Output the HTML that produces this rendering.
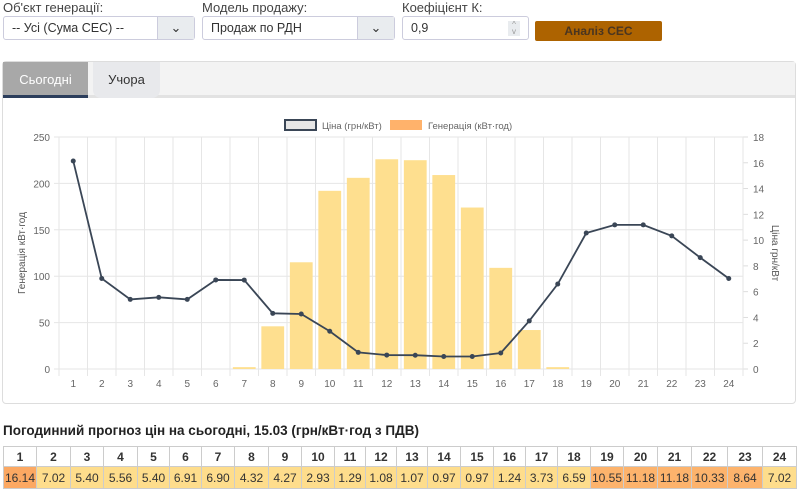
<!DOCTYPE html>
<html><head><meta charset="utf-8"><style>
*{box-sizing:border-box}
body{margin:0;width:803px;height:500px;background:#fff;font-family:"Liberation Sans",sans-serif;position:relative;overflow:hidden;color:#333}
.lbl{position:absolute;top:0;font-size:13px;color:#444}
.sel{position:absolute;top:16px;height:24px;border:1px solid #ccd;border-radius:3px;font-size:12.5px;padding:4px 8px;color:#333;background:#fff}
.sel .arr{position:absolute;right:0;top:0;bottom:0;width:37px;background:#e9ecef;border-left:1px solid #ccd;text-align:center;line-height:22px;font-size:13px}
.card{position:absolute;left:2px;top:61px;width:794px;height:343px;border:1px solid #ddd;border-radius:4px;background:#fff}
.tabs{position:absolute;left:0;top:0;width:100%;height:36px;background:#f3f3f3;border-bottom:3px solid #e2e2e2}
table{position:absolute;left:3px;top:446px;width:793px;border-collapse:collapse;font-size:12px;table-layout:fixed}
td{border:1px solid #ccc;text-align:center;height:22px;padding:0;overflow:hidden;white-space:nowrap}
tr.h td{font-weight:bold;background:#fff;height:20px}
</style></head><body>
<div class="lbl" style="left:3px">Об'єкт генерації:</div>
<div class="sel" style="left:3px;width:192px">-- Усі (Сума СЕС) --<span class="arr">&#8964;</span></div>
<div class="lbl" style="left:202px">Модель продажу:</div>
<div class="sel" style="left:202px;width:193px">Продаж по РДН<span class="arr">&#8964;</span></div>
<div class="lbl" style="left:402px">Коефіцієнт К:</div>
<div class="sel" style="left:402px;width:127px">0,9<span style="position:absolute;right:8px;top:4px;width:12px;height:15px;background:#e9ecef;font-size:8px;line-height:7px;text-align:center;color:#999">^<br>v</span></div>
<div style="position:absolute;left:535px;top:21px;width:127px;height:20px;background:#ad6300;border-radius:2px;color:#4a3520;font-weight:bold;font-size:12px;text-align:center;line-height:20px">Аналіз СЕС</div>
<div class="card">
<div class="tabs">
<div style="position:absolute;left:0;top:0;width:85px;height:36px;background:#a8a8a8;color:#fff;font-size:13px;line-height:36px;text-align:center;border-bottom:3px solid #2c3e5c">Сьогодні</div>
<div style="position:absolute;left:90px;top:0;width:67px;height:36px;background:#e8e9ec;color:#333;font-size:13px;line-height:36px;text-align:center;border-radius:0 0 8px 8px">Учора</div>
</div></div>
<svg id="ch" width="803" height="410" style="position:absolute;left:0;top:0"></svg>
<div style="position:absolute;left:3px;top:423px;font-weight:bold;font-size:13.5px;color:#222">Погодинний прогноз цін на сьогодні, 15.03 (грн/кВт·год з ПДВ)</div>
<table id="tb"><colgroup id="cg"></colgroup><tr class="h" id="hr"></tr><tr id="vr"></tr></table>
<script>
const hours=[1,2,3,4,5,6,7,8,9,10,11,12,13,14,15,16,17,18,19,20,21,22,23,24];
const prices=[16.14,7.02,5.40,5.56,5.40,6.91,6.90,4.32,4.27,2.93,1.29,1.08,1.07,0.97,0.97,1.24,3.73,6.59,10.55,11.18,11.18,10.33,8.64,7.02];
const generation=[0,0,0,0,0,0,2,46,115,192,206,226,225,209,174,109,42,2,0,0,0,0,0,0];
const genTicks=[0,50,100,150,200,250];
const priceTicks=[0,2,4,6,8,10,12,14,16,18];
const NS="http://www.w3.org/2000/svg";
const svg=document.getElementById('ch');
const L=59,R=743,T=137,B=369,bw=(R-L)/24;
const xc=i=>L+bw*(i+0.5);
const yg=v=>B-v/250*(B-T);
const yp=v=>B-v/18*(B-T);
function mk(t,a){const e=document.createElementNS(NS,t);for(const k in a)e.setAttribute(k,a[k]);svg.appendChild(e);return e;}
genTicks.forEach(v=>{const l=mk('line',{x1:L-5,x2:R,y1:yg(v),y2:yg(v),stroke:'#e6e6e6'});

const t=mk('text',{x:L-9,y:yg(v)+4,'text-anchor':'end','font-size':10,fill:'#666'});t.textContent=v;
});
priceTicks.forEach(v=>{const l=mk('line',{x1:R,x2:R+5,y1:yp(v),y2:yp(v),stroke:'#ddd'});

const t=mk('text',{x:R+10,y:yp(v)+4,'font-size':10,fill:'#666'});t.textContent=v;
});
for(let i=0;i<=24;i++){const l=mk('line',{x1:L+bw*i,x2:L+bw*i,y1:T,y2:B+7,stroke:'#e6e6e6'});
}
hours.forEach((h,i)=>{const t=mk('text',{x:xc(i),y:B+18,'text-anchor':'middle','font-size':10,fill:'#666'});t.textContent=h;
});
generation.forEach((v,i)=>{if(!v)return;const r=mk('rect',{x:xc(i)-bw*0.4,width:bw*0.8,y:yg(v),height:B-yg(v),fill:'#fedf8f'});
});
const pl=mk('polyline',{points:prices.map((v,i)=>xc(i)+','+yp(v)).join(' '),fill:'none',stroke:'#3a4656','stroke-width':1.8});

prices.forEach((v,i)=>{const c=mk('circle',{cx:xc(i),cy:yp(v),r:2.5,fill:'#3a4656'});
});
let e;
e=mk('rect',{x:285,y:120,width:31,height:10,fill:'#e6e6e6',stroke:'#3a4656','stroke-width':2});
e=mk('text',{x:322,y:129,'font-size':9.5,fill:'#666'});e.textContent='Ціна (грн/кВт)';
e=mk('rect',{x:390,y:120,width:32,height:10,fill:'#ffb26b'});
e=mk('text',{x:428,y:129,'font-size':9.5,fill:'#666'});e.textContent='Генерація (кВт·год)';
e=mk('text',{x:0,y:0,'font-size':10,fill:'#555','text-anchor':'middle',transform:'translate(25,253) rotate(-90)'});e.textContent='Генерація кВт·год';
e=mk('text',{x:0,y:0,'font-size':10,fill:'#555','text-anchor':'middle',transform:'translate(772,253) rotate(90)'});e.textContent='Ціна грн/кВт';
const widths=[33,34,33,34,32,32,33,34,33,33,31,31,31,33,33,32,32,33,33,34,34,36,35,34];
const cg=document.getElementById('cg');
widths.forEach(w=>{const c=document.createElement('col');c.style.width=w+'px';cg.appendChild(c);});
const hr=document.getElementById('hr'),vr=document.getElementById('vr');
hours.forEach((h,i)=>{const a=document.createElement('td');a.textContent=h;
hr.appendChild(a);
const b=document.createElement('td');const p=prices[i];b.textContent=p.toFixed(2);
b.style.background=p>=12?'#fca862':(p>=8?'#fdb36c':'#fedd8c');
vr.appendChild(b);});
</script>
</body></html>
